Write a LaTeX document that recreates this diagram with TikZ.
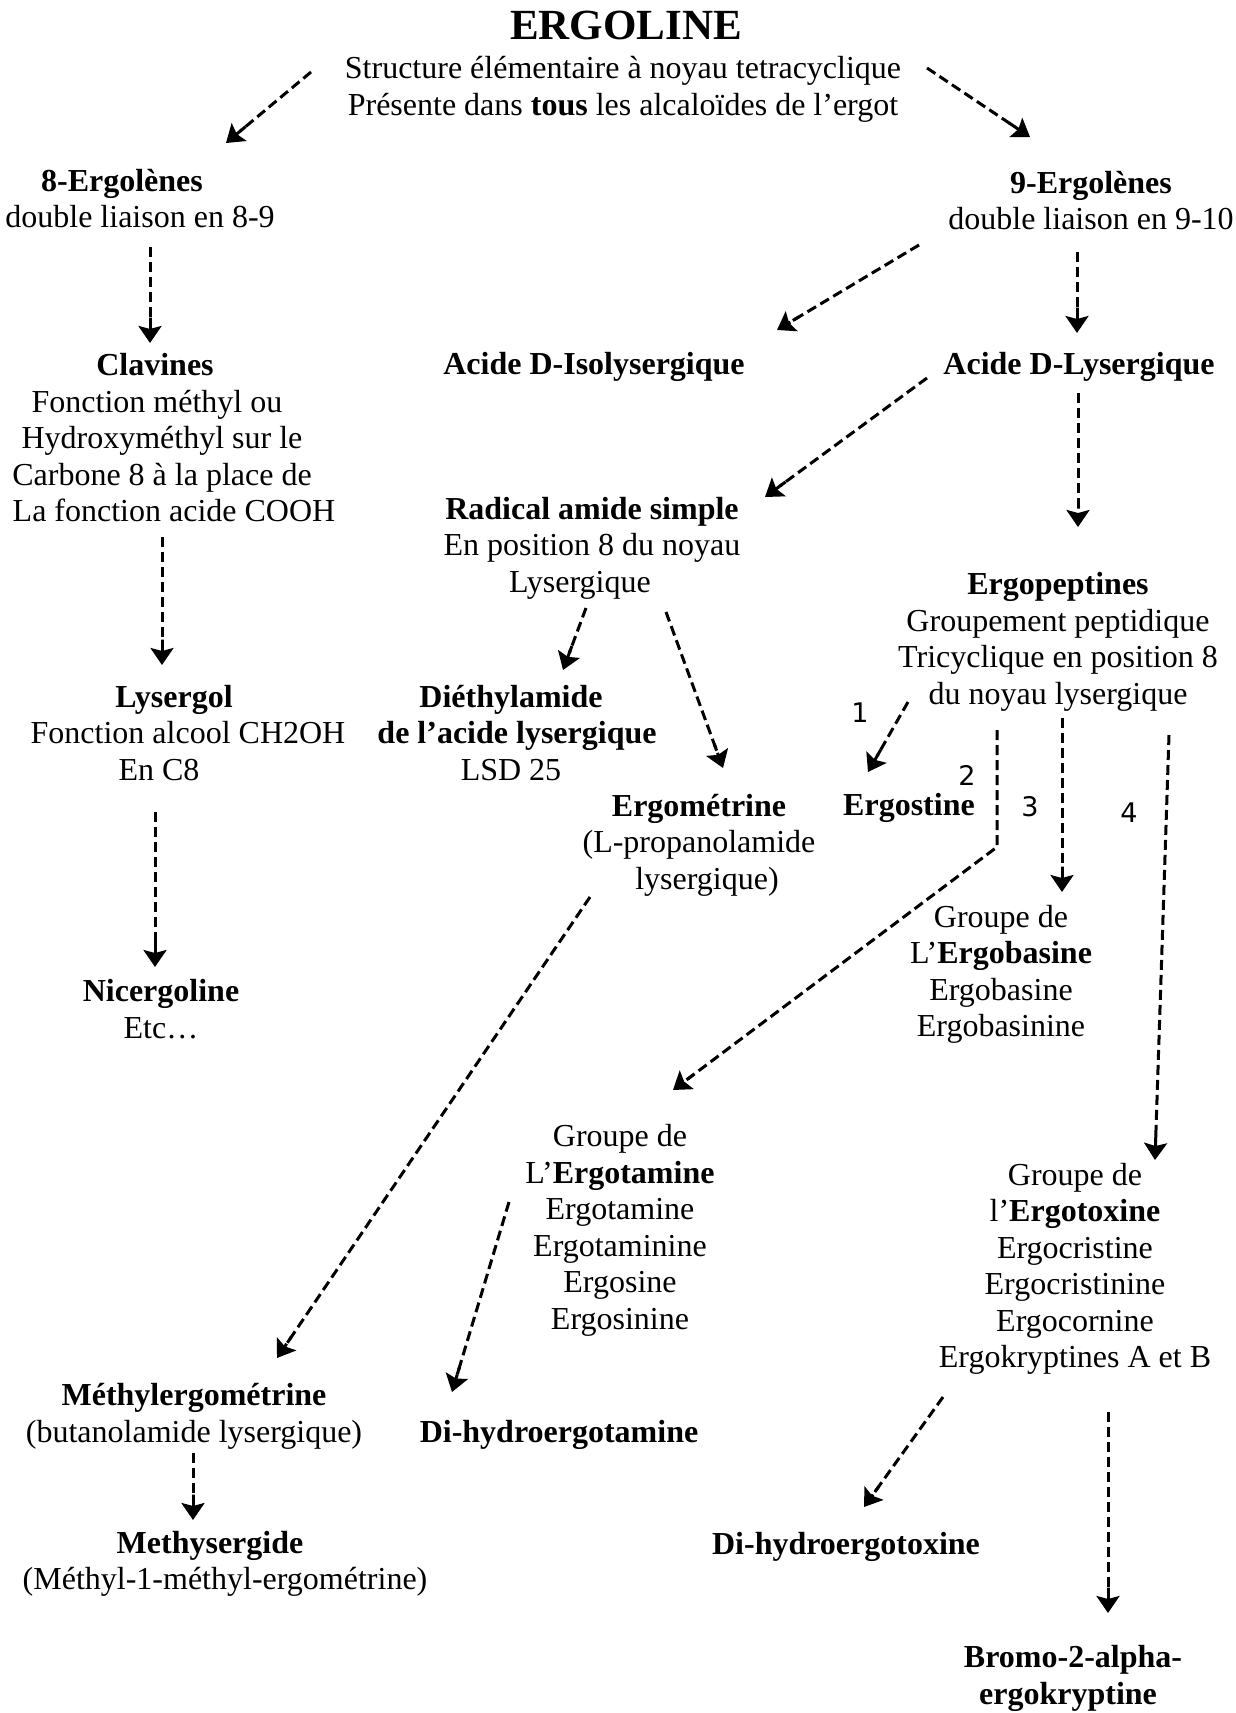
\documentclass[tikz,border=0pt]{standalone}
\usepackage{fontspec}
\setmainfont{Liberation Serif}
\newfontfamily\handfont{DejaVu Sans}
\usetikzlibrary{arrows.meta}
\tikzset{
  txt/.style={align=center, inner sep=0pt, font=\fontsize{32}{36.5}\selectfont},
  btxt/.style={align=center, inner sep=0pt, font=\fontsize{32}{36.5}\selectfont\bfseries},
  hand/.style={inner sep=0pt, font=\fontsize{27}{30}\selectfont\handfont},
  arr/.style={line width=3pt, dash pattern=on 10pt off 5pt,
    -{Rectangle[length=10pt,width=3pt]Stealth[length=17pt,width=23pt,inset=3pt]}}
}
\begin{document}
\begin{tikzpicture}[x=1pt,y=-1pt]
\fill[white] (0,0) rectangle (1236,1713);
\useasboundingbox (0,0) rectangle (1236,1713);

% nodes
\node[inner sep=0pt, font=\fontsize{43}{48}\selectfont\bfseries] (title) at (626,25) {ERGOLINE};
\node[txt] (struct) at (623,89.5) {Structure élémentaire à noyau tetracyclique\\Présente dans \textbf{tous} les alcaloïdes de l’ergot};
\node[txt] (erg8) at (140,198.5) {\hspace*{-36pt}\textbf{8-Ergolènes}\\double liaison en 8-9};
\node[txt] (erg9) at (1091,200.5) {\textbf{9-Ergolènes}\\double liaison en 9-10};
\node[txt] (clav) at (162,438) {\hspace*{-14pt}\textbf{Clavines}\\\hspace*{-10pt}Fonction méthyl ou\\Hydroxyméthyl sur le\\Carbone 8 à la place de\\\hspace*{24pt}La fonction acide COOH};
\node[btxt] (isolys) at (594,367) {Acide D-Isolysergique};
\node[btxt] (lys) at (1079,367) {Acide D-Lysergique};
\node[txt] (radical) at (592,548) {\textbf{Radical amide simple}\\En position 8 du noyau\\\hspace*{-24pt}Lysergique};
\node[txt] (ergopep) at (1058,642) {\textbf{Ergopeptines}\\Groupement peptidique\\Tricyclique en position 8\\du noyau lysergique};
\node[txt] (lysergol) at (174,733) {\textbf{Lysergol}\\\hspace*{28pt}Fonction alcool CH2OH\\\hspace*{-30pt}En C8};
\node[txt] (diethyl) at (517,733) {\hspace*{-12pt}\textbf{Diéthylamide}\\\textbf{de l’acide lysergique}\\\hspace*{-12pt}LSD 25};
\node[txt] (ergomet) at (699,845) {\textbf{Ergométrine}\\(L-propanolamide\\\hspace*{16pt}lysergique)};
\node[btxt] (ergostine) at (909,808) {Ergostine};
\node[txt] (ergobas) at (1001,974.5) {Groupe de\\L’\textbf{Ergobasine}\\Ergobasine\\Ergobasinine};
\node[txt] (nicer) at (161,1009) {\textbf{Nicergoline}\\Etc…};
\node[txt] (ergotam) at (620,1230.5) {Groupe de\\L’\textbf{Ergotamine}\\Ergotamine\\Ergotaminine\\Ergosine\\Ergosinine};
\node[txt] (ergotox) at (1075,1269) {Groupe de\\l’\textbf{Ergotoxine}\\Ergocristine\\Ergocristinine\\Ergocornine\\Ergokryptines A et B};
\node[txt] (methylerg) at (194,1416.5) {\textbf{Méthylergométrine}\\(butanolamide lysergique)};
\node[btxt] (dhergotam) at (559,1435) {Di-hydroergotamine};
\node[txt] (methyserg) at (225,1564) {\hspace*{-30pt}\textbf{Methysergide}\\(Méthyl-1-méthyl-ergométrine)};
\node[btxt] (dhergotox) at (846,1547) {Di-hydroergotoxine};
\node[btxt] (bromo) at (1068,1678.5) {\hspace*{10pt}Bromo-2-alpha-\\ergokryptine};

% handwritten numbers
\node[hand] (n1) at (860,713) {1};
\node[hand] (n2) at (967,775) {2};
\node[hand] (n3) at (1030,807) {3};
\node[hand] (n4) at (1129,813) {4};

% connectors
\draw[arr] ([shift={(-312,-17.5)}]struct.center) -- ([shift={(86,-55.5)}]erg8.center);
\draw[arr] ([shift={(304,-21.5)}]struct.center) -- ([shift={(-61,-63.5)}]erg9.center);
\draw[arr] ([shift={(10,48.5)}]erg8.center) -- ([shift={(-12,-95)}]clav.center);
\draw[arr] ([shift={(-172,44.5)}]erg9.center) -- ([shift={(183,-37)}]isolys.center);
\draw[arr] ([shift={(-14,51.5)}]erg9.center) -- ([shift={(-2,-34)}]lys.center);
\draw[arr] ([shift={(-152,11)}]lys.center) -- ([shift={(173,-51)}]radical.center);
\draw[arr] ([shift={(-1,26)}]lys.center) -- ([shift={(20,-115)}]ergopep.center);
\draw[arr] ([shift={(0,99)}]clav.center) -- ([shift={(-12,-68)}]lysergol.center);
\draw[arr] ([shift={(-6,60)}]radical.center) -- ([shift={(46,-63)}]diethyl.center);
\draw[arr] ([shift={(74,64)}]radical.center) -- ([shift={(24,-77)}]ergomet.center);
\draw[arr] ([shift={(-150,60)}]ergopep.center) -- ([shift={(-41,-36)}]ergostine.center);
\coordinate (bend2) at ([shift={(-61,205)}]ergopep.center);
\draw[arr] ([shift={(-61,88)}]ergopep.center) -- (bend2) -- ([shift={(53,-140.5)}]ergotam.center);
\draw[arr] ([shift={(4,76)}]ergopep.center) -- ([shift={(61,-82.5)}]ergobas.center);
\draw[arr] ([shift={(111,93)}]ergopep.center) -- ([shift={(80,-109)}]ergotox.center);
\draw[arr] ([shift={(-19,79)}]lysergol.center) -- ([shift={(-6,-42)}]nicer.center);
\draw[arr] ([shift={(-109,52)}]ergomet.center) -- ([shift={(83,-58.5)}]methylerg.center);
\draw[arr] ([shift={(-111,-28.5)}]ergotam.center) -- ([shift={(-107,-43)}]dhergotam.center);
\draw[arr] ([shift={(-1,36.5)}]methylerg.center) -- ([shift={(-32,-44)}]methyserg.center);
\draw[arr] ([shift={(-132,128)}]ergotox.center) -- ([shift={(18,-40)}]dhergotox.center);
\draw[arr] ([shift={(33,143)}]ergotox.center) -- ([shift={(40,-65.5)}]bromo.center);
\end{tikzpicture}
\end{document}
